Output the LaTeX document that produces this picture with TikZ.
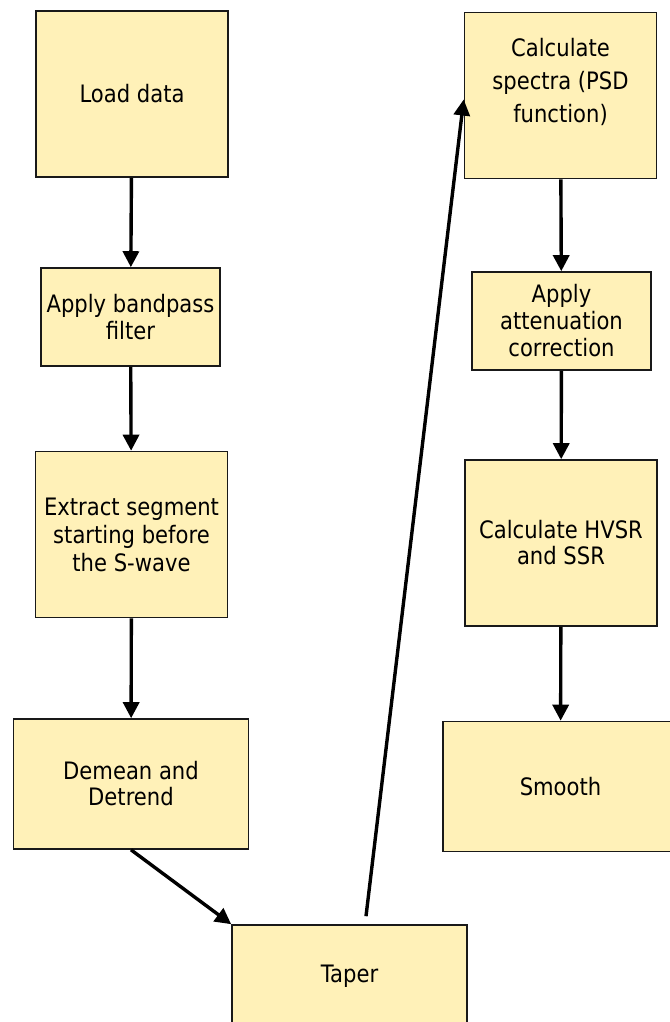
\documentclass[tikz,border=0pt]{standalone}
\usepackage{fontspec}
\setmainfont{DejaVu Sans}[FakeStretch=0.88]
\usetikzlibrary{arrows.meta}
\definecolor{boxyellow}{RGB}{255,241,184}

\begin{document}
\begin{tikzpicture}[x=1pt,y=-1pt,
    stepbox/.style={draw=black!90,line width=1.6pt,fill=boxyellow,align=center,inner sep=2pt,
      font=\fontsize{24}{27}\selectfont},
    bigbox/.style={stepbox,minimum width=192pt,minimum height=166pt},
    smallbox/.style={stepbox,minimum width=179pt,minimum height=98pt},
    widebox/.style={stepbox,minimum width=235pt,minimum height=130pt},
    flow/.style={line width=3.4pt,-{Triangle[length=16pt,width=16pt]}}]
    \useasboundingbox (0,0) rectangle (669,1022);

    \node [bigbox] (1) at (132,94) {Load data};
    \node [smallbox] (2) at (130.5,317) {Apply bandpass\\filter};
    \node [bigbox,font=\fontsize{24}{28}\selectfont] (3) at (131.5,534.5) {Extract segment\\starting before\\the S-wave};
    \node [widebox,font=\fontsize{24}{26}\selectfont] (4) at (131,784) {Demean and\\Detrend};
    \node [widebox,minimum height=102pt] (5) at (349.5,976) {Taper};
    \node [bigbox] (6) at (560.5,95.5) {};
    \node [align=center,font=\fontsize{24}{33}\selectfont] (6text) at (560.5,82) {Calculate\\spectra (PSD\\function)};
    \node [smallbox] (7) at (561.5,321) {Apply\\attenuation\\correction};
    \node [bigbox,font=\fontsize{24}{26}\selectfont] (8) at (561,543) {Calculate HVSR\\and SSR};
    \node [widebox] (9) at (560.5,786.5) {Smooth};

    \coordinate (5top) at ([xshift=16.5pt,yshift=8pt]5.north);

    \draw [flow] (1) -- (2);
    \draw [flow] (2) -- (3);
    \draw [flow] (3) -- (4);
    \draw [flow] (4.south) -- (5.north west);
    \draw [flow] (5top) -- ([yshift=-4pt]6.west);
    \draw [flow] (6) -- (7);
    \draw [flow] (7) -- (8);
    \draw [flow] (8) -- (9);

  \end{tikzpicture}
\end{document}
